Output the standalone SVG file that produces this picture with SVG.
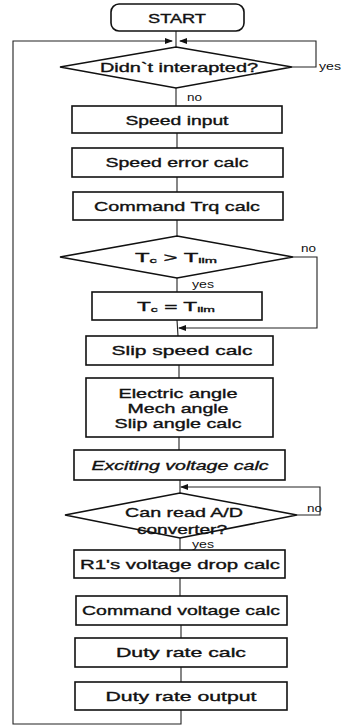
<svg xmlns="http://www.w3.org/2000/svg" width="344" height="726" viewBox="0 0 344 726">
<defs>
<marker id="arr" markerWidth="8" markerHeight="6" refX="7" refY="3" orient="auto" markerUnits="userSpaceOnUse">
<path d="M0,0 L8,3 L0,6 Z" fill="#111"/>
</marker>
<style>
.box{fill:#fff;stroke:#111;stroke-width:1.6}
.ln{fill:none;stroke:#222;stroke-width:1.1}
.t{font-family:"Liberation Sans",Arial,sans-serif;font-size:13px;fill:#111;stroke:#111;stroke-width:0.35;text-anchor:middle;dominant-baseline:central}
.s{font-family:"Liberation Sans",Arial,sans-serif;font-size:10px;fill:#111}
.sub{font-size:8px}
</style>
</defs>
<rect width="344" height="726" fill="#fff"/>
<g id="connectors">
<polyline class="ln" points="176,31 176,47"/>
<polyline class="ln" points="181,710 181,724 13,724 13,41 172,41" marker-end="url(#arr)"/>
<polyline class="ln" points="292,67 316,67 316,41 180,41" marker-end="url(#arr)"/>
<polyline class="ln" points="176,88 176,106"/>
<polyline class="ln" points="177,133 177,148"/>
<polyline class="ln" points="177,177 177,192"/>
<polyline class="ln" points="177,220 177,236"/>
<polyline class="ln" points="177,278 177,292"/>
<polyline class="ln" points="177,320 178,336"/>
<polyline class="ln" points="293,257 317,257 317,328 179,328" marker-end="url(#arr)"/>
<polyline class="ln" points="179,365 179,378"/>
<polyline class="ln" points="179,437 179,450"/>
<polyline class="ln" points="180,480 180,493"/>
<polyline class="ln" points="297,515 320,515 320,487 181,487" marker-end="url(#arr)"/>
<polyline class="ln" points="180,538 180,550"/>
<polyline class="ln" points="180,578 180,596"/>
<polyline class="ln" points="181,625 181,638"/>
<polyline class="ln" points="181,667 181,682"/>
<text class="s" x="319" y="70" textLength="22" lengthAdjust="spacingAndGlyphs">yes</text>
<text class="s" x="187" y="101" textLength="15" lengthAdjust="spacingAndGlyphs">no</text>
<text class="s" x="301" y="252" textLength="15" lengthAdjust="spacingAndGlyphs">no</text>
<text class="s" x="192" y="288" textLength="22" lengthAdjust="spacingAndGlyphs">yes</text>
<text class="s" x="307" y="512" textLength="15" lengthAdjust="spacingAndGlyphs">no</text>
<text class="s" x="192" y="548" textLength="22" lengthAdjust="spacingAndGlyphs">yes</text>
</g>
<g id="start">
<rect class="box" x="111" y="4" width="133" height="27" rx="8"/>
<text class="t" x="177" y="18" textLength="58" lengthAdjust="spacingAndGlyphs">START</text>
</g>
<g id="interrupted">
<polygon class="box" points="176,47 292,67 176,88 60,67"/>
<text class="t" x="179" y="67" textLength="158" lengthAdjust="spacingAndGlyphs">Didn`t interapted?</text>
</g>
<g id="speed-input">
<rect class="box" x="72" y="106" width="210" height="27"/>
<text class="t" x="177" y="120" textLength="103" lengthAdjust="spacingAndGlyphs">Speed input</text>
</g>
<g id="speed-error">
<rect class="box" x="72" y="148" width="211" height="29"/>
<text class="t" x="177" y="162" textLength="143" lengthAdjust="spacingAndGlyphs">Speed error calc</text>
</g>
<g id="command-trq">
<rect class="box" x="73" y="192" width="210" height="28"/>
<text class="t" x="177" y="206" textLength="166" lengthAdjust="spacingAndGlyphs">Command Trq calc</text>
</g>
<g id="tc-gt-tlim">
<polygon class="box" points="177,236 293,257 177,278 60,257"/>
<text class="t" x="176" y="257" textLength="82" lengthAdjust="spacingAndGlyphs">T<tspan class="sub" dy="3">c</tspan><tspan dy="-3">  &gt;  T</tspan><tspan class="sub" dy="3">lim</tspan></text>
</g>
<g id="tc-eq-tlim">
<rect class="box" x="92" y="292" width="170" height="28"/>
<text class="t" x="176" y="306" textLength="78" lengthAdjust="spacingAndGlyphs">T<tspan class="sub" dy="3">c</tspan><tspan dy="-3">  =  T</tspan><tspan class="sub" dy="3">lim</tspan></text>
</g>
<g id="slip-speed">
<rect class="box" x="86" y="336" width="187" height="29"/>
<text class="t" x="182" y="350" textLength="141" lengthAdjust="spacingAndGlyphs">Slip speed calc</text>
</g>
<g id="angles">
<rect class="box" x="86" y="378" width="187" height="59"/>
<text class="t" x="178" y="393" textLength="119" lengthAdjust="spacingAndGlyphs">Electric angle</text>
<text class="t" x="178" y="408" textLength="101" lengthAdjust="spacingAndGlyphs">Mech angle</text>
<text class="t" x="178" y="423" textLength="127" lengthAdjust="spacingAndGlyphs">Slip angle calc</text>
</g>
<g id="exciting">
<rect class="box" x="74" y="450" width="211" height="30"/>
<text class="t" x="180" y="465" font-style="italic" textLength="177" lengthAdjust="spacingAndGlyphs">Exciting voltage calc</text>
</g>
<g id="can-read">
<polygon class="box" points="180,493 297,515 180,538 65,515"/>
<text class="t" x="184" y="512" textLength="118" lengthAdjust="spacingAndGlyphs">Can read A/D</text>
<text class="t" x="182" y="529" textLength="90" lengthAdjust="spacingAndGlyphs">converter?</text>
</g>
<g id="r1-drop">
<rect class="box" x="74" y="550" width="211" height="28"/>
<text class="t" x="180" y="564" textLength="200" lengthAdjust="spacingAndGlyphs">R1's voltage drop calc</text>
</g>
<g id="command-voltage">
<rect class="box" x="76" y="596" width="211" height="29"/>
<text class="t" x="181" y="610" textLength="198" lengthAdjust="spacingAndGlyphs">Command voltage calc</text>
</g>
<g id="duty-calc">
<rect class="box" x="75" y="638" width="212" height="29"/>
<text class="t" x="181" y="652" textLength="130" lengthAdjust="spacingAndGlyphs">Duty rate calc</text>
</g>
<g id="duty-output">
<rect class="box" x="75" y="682" width="212" height="28"/>
<text class="t" x="181" y="696" textLength="151" lengthAdjust="spacingAndGlyphs">Duty rate output</text>
</g>
</svg>
